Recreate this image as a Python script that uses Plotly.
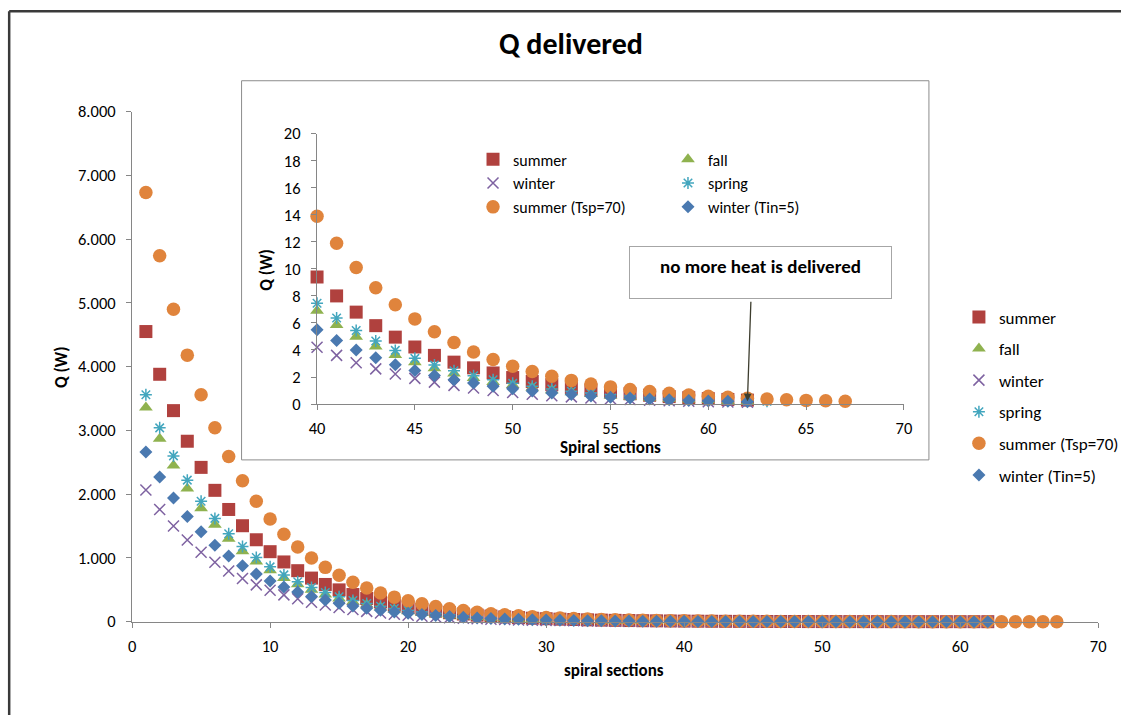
import plotly.graph_objects as go

# Spiral section index for each series
sections = list(range(1, 63))
sections_spring = list(range(1, 64))
sections_tsp70 = list(range(1, 68))

# Delivered heat per spiral section, Q (W)
q_summer = [4550, 3880, 3310, 2830, 2420, 2060, 1760, 1505, 1285, 1098,
            937, 800, 684, 584, 499, 426, 364, 311, 265, 226,
            193, 165, 141, 120, 103, 88, 75, 64, 54.7, 46.7,
            39.9, 34.1, 29.1, 24.9, 21.2, 18.1, 15.5, 13.2, 11.3, 9.4,
            8.0, 6.8, 5.8, 4.95, 4.22, 3.6, 3.1, 2.68, 2.3, 1.96,
            1.67, 1.43, 1.22, 1.04, 0.89, 0.76, 0.65, 0.55, 0.47, 0.4,
            0.34, 0.29]

q_fall = [3360, 2870, 2450, 2090, 1780, 1520, 1300, 1106, 944, 805,
          687, 586, 500, 427, 364, 311, 265, 226, 193, 165,
          141, 120, 102, 87.2, 74.4, 63.5, 54.2, 46.2, 39.4, 33.6,
          28.7, 24.5, 20.9, 17.8, 15.2, 13.0, 11.1, 9.45, 8.06, 6.9,
          5.85, 4.98, 4.25, 3.62, 3.1, 2.65, 2.26, 1.93, 1.64, 1.4,
          1.2, 1.02, 0.87, 0.74, 0.63, 0.54, 0.46, 0.39, 0.34, 0.29,
          0.25, 0.21]

q_winter = [2065, 1760, 1500, 1280, 1090, 932, 795, 678, 578, 493,
            421, 359, 306, 261, 223, 190, 162, 138, 118, 101,
            85.9, 73.3, 62.5, 53.3, 45.5, 38.8, 33.1, 28.2, 24.1, 20.5,
            17.5, 14.9, 12.7, 10.9, 9.27, 7.9, 6.74, 5.75, 4.9, 4.2,
            3.6, 3.05, 2.6, 2.22, 1.9, 1.62, 1.38, 1.18, 1.0, 0.86,
            0.73, 0.62, 0.53, 0.45, 0.39, 0.33, 0.28, 0.24, 0.2, 0.17,
            0.15, 0.13]

q_spring = [3560, 3040, 2600, 2220, 1890, 1620, 1380, 1180, 1007, 860,
            734, 627, 536, 457, 391, 334, 285, 243, 208, 177,
            151, 129, 110, 94, 80.5, 68.7, 58.7, 50.1, 42.8, 36.6,
            31.2, 26.7, 22.8, 19.4, 16.6, 14.2, 12.1, 10.3, 8.8, 7.45,
            6.37, 5.44, 4.66, 3.97, 3.38, 2.88, 2.46, 2.1, 1.8, 1.53,
            1.31, 1.12, 0.95, 0.81, 0.69, 0.59, 0.5, 0.43, 0.37, 0.31,
            0.27, 0.23, 0.2]

q_summer_tsp70 = [6730, 5740, 4900, 4180, 3560, 3040, 2590, 2210, 1890, 1610,
                  1370, 1170, 999, 852, 727, 620, 529, 451, 385, 328,
                  280, 239, 204, 174, 148, 126, 108, 92, 78.6, 67,
                  57.2, 48.8, 41.6, 35.5, 30.3, 25.8, 22.0, 18.8, 16.0, 13.9,
                  11.9, 10.1, 8.6, 7.35, 6.3, 5.35, 4.55, 3.85, 3.3, 2.8,
                  2.4, 2.05, 1.75, 1.48, 1.27, 1.08, 0.92, 0.79, 0.67, 0.58,
                  0.5, 0.43, 0.37, 0.32, 0.27, 0.24, 0.21]

q_winter_tin5 = [2660, 2270, 1940, 1650, 1410, 1200, 1030, 878, 749, 639,
                 546, 466, 397, 339, 290, 247, 211, 180, 154, 131,
                 112, 95.5, 81.5, 69.6, 59.4, 50.7, 43.3, 36.9, 31.5, 26.9,
                 23.0, 19.6, 16.7, 14.3, 12.2, 10.4, 8.88, 7.58, 6.47, 5.5,
                 4.7, 4.0, 3.42, 2.9, 2.48, 2.12, 1.8, 1.55, 1.32, 1.13,
                 0.96, 0.82, 0.7, 0.6, 0.51, 0.44, 0.37, 0.32, 0.27, 0.23,
                 0.2, 0.17]

main_y_ticks = [0, 1000, 2000, 3000, 4000, 5000, 6000, 7000, 8000]
main_y_labels = ["0", "1.000", "2.000", "3.000", "4.000", "5.000", "6.000", "7.000", "8.000"]

FONT = "Carlito, Lato, 'Liberation Sans', sans-serif"

# Figure size, plus the page geometry it sits in (default body margin)
W, H = 1129, 725
BODY = 8
SX, SY = (W + 2 * BODY) / W, (H + 2 * BODY) / H


def px_x(p):
    """Screen x pixel -> paper fraction."""
    return (p * SX - BODY) / W


def px_y(p):
    """Screen y pixel -> paper fraction."""
    return 1 - (p * SY - BODY) / H


series = [
    ("summer", sections, q_summer,
     dict(symbol="square", size=13, color="#B0413E")),
    ("fall", sections, q_fall,
     dict(symbol="triangle-up", size=12, color="#8FB24F")),
    ("winter", sections, q_winter,
     dict(symbol="x-thin-open", size=11, color="#7E62A1", line=dict(width=1.5, color="#7E62A1"))),
    ("spring", sections_spring, q_spring,
     dict(symbol="asterisk-open", size=10, color="#43A6BE", line=dict(width=1.5, color="#43A6BE"))),
    ("summer (Tsp=70)", sections_tsp70, q_summer_tsp70,
     dict(symbol="circle", size=13.5, color="#E0843C")),
    ("winter (Tin=5)", sections, q_winter_tin5,
     dict(symbol="diamond", size=10, color="#4A79B0")),
]

inset_legend_of = {
    "summer": "legend2", "winter": "legend2", "summer (Tsp=70)": "legend2",
    "fall": "legend3", "spring": "legend3", "winter (Tin=5)": "legend3",
}

fig = go.Figure()

# Main chart traces
for i, (name, xs, ys, mk) in enumerate(series):
    fig.add_trace(go.Scatter(
        x=xs, y=ys, mode="markers", name=name, marker=mk,
        xaxis="x", yaxis="y", legend="legend", legendgroup=f"m{i}",
        cliponaxis=False,
    ))

# Inset traces: sections 40 onward
for name, xs, ys, mk in series:
    sel = [(a, b) for a, b in zip(xs, ys) if a >= 40]
    fig.add_trace(go.Scatter(
        x=[a for a, _ in sel], y=[b for _, b in sel], mode="markers", name=name,
        marker=mk, xaxis="x2", yaxis="y2", legend=inset_legend_of[name],
        cliponaxis=False,
    ))

axis_common = dict(
    showgrid=False, zeroline=False, showline=True, linecolor="#868686",
    linewidth=1.3, ticks="outside", ticklen=5, tickcolor="#868686",
    tickfont=dict(family=FONT, size=16.5, color="#000000"),
)
x_axis_common = dict(ticklabelstandoff=4, **axis_common)
y_axis_common = dict(ticklabelstandoff=7, **axis_common)

legend_font = dict(family=FONT, size=16, color="#000000")

fig.update_layout(
    width=W, height=H,
    margin=dict(l=0, r=0, t=0, b=0),
    paper_bgcolor="white", plot_bgcolor="rgba(0,0,0,0)",
    font=dict(family=FONT, color="#000000"),
    xaxis=dict(domain=[px_x(132), px_x(1098.3)], range=[0, 70], dtick=10,
               anchor="y", **x_axis_common),
    yaxis=dict(domain=[px_y(623.3), px_y(110)], range=[0, 8000],
               tickvals=main_y_ticks, ticktext=main_y_labels,
               anchor="x", **y_axis_common),
    xaxis2=dict(domain=[px_x(317), px_x(904)], range=[40, 70], dtick=5,
                anchor="y2", **x_axis_common),
    yaxis2=dict(domain=[px_y(404.3), px_y(132.3)], range=[0, 20], dtick=2,
                anchor="x2", **y_axis_common),
    legend=dict(x=px_x(959), y=px_y(299), xanchor="left", yanchor="top",
                traceorder="grouped", tracegroupgap=6.5, itemwidth=30,
                bgcolor="rgba(0,0,0,0)", font=dict(legend_font, size=17)),
    legend2=dict(x=px_x(473), y=px_y(141), xanchor="left", yanchor="top",
                 traceorder="normal", itemwidth=30,
                 bgcolor="rgba(0,0,0,0)", font=legend_font),
    legend3=dict(x=px_x(668), y=px_y(141), xanchor="left", yanchor="top",
                 traceorder="normal", itemwidth=30,
                 bgcolor="rgba(0,0,0,0)", font=legend_font),
    showlegend=True,
)

# Outer chart frame (left and top edges) and the inset panel
frame = dict(color="#3a3a3a", width=2.5)
fig.add_shape(type="line", xref="paper", yref="paper",
              x0=1.2 / W, x1=1.2 / W, y0=0, y1=1 - 1.2 / H, line=frame, layer="below")
fig.add_shape(type="line", xref="paper", yref="paper",
              x0=1.2 / W, x1=1, y0=1 - 1.2 / H, y1=1 - 1.2 / H, line=frame, layer="below")
fig.add_shape(type="rect", xref="paper", yref="paper",
              x0=px_x(241.5), x1=px_x(929), y0=px_y(460.5), y1=px_y(79),
              line=dict(color="#8c8c8c", width=1), fillcolor="white",
              layer="below")

bold = dict(family=FONT, color="#000000")
centred = dict(xref="paper", yref="paper", xanchor="center", yanchor="middle",
               showarrow=False)

fig.add_annotation(text="<b>Q delivered</b>", x=px_x(571), y=px_y(42),
                   font=dict(size=30, **bold), **centred)
fig.add_annotation(text="<b>spiral sections</b>", x=px_x(614), y=px_y(672),
                   font=dict(size=17, **bold), **centred)
fig.add_annotation(text="<b>Q (W)</b>", x=px_x(62), y=px_y(367), textangle=-90,
                   font=dict(size=17, **bold), **centred)
fig.add_annotation(text="<b>Spiral sections</b>", x=px_x(610.5), y=px_y(448),
                   font=dict(size=17, **bold), **centred)
fig.add_annotation(text="<b>Q (W)</b>", x=px_x(267), y=px_y(269), textangle=-90,
                   font=dict(size=17, **bold), **centred)

# Callout box and arrow to the last heat-delivering section
fig.add_annotation(text="<b>no more heat is delivered</b>", xref="paper", yref="paper",
                   x=px_x(760.5), y=px_y(245), xanchor="center", yanchor="top",
                   showarrow=False, width=245, height=35, valign="top",
                   borderpad=8, bordercolor="#a6a6a6", borderwidth=1,
                   bgcolor="white", font=dict(size=19, **bold))
fig.add_annotation(text="", xref="x2", yref="y2", x=62, y=0.2,
                   axref="pixel", ayref="pixel", ax=3.5, ay=-101,
                   showarrow=True, arrowhead=2, arrowsize=1.2, arrowwidth=1.3,
                   arrowcolor="#3d3d2e")

fig.write_html("out.html")
